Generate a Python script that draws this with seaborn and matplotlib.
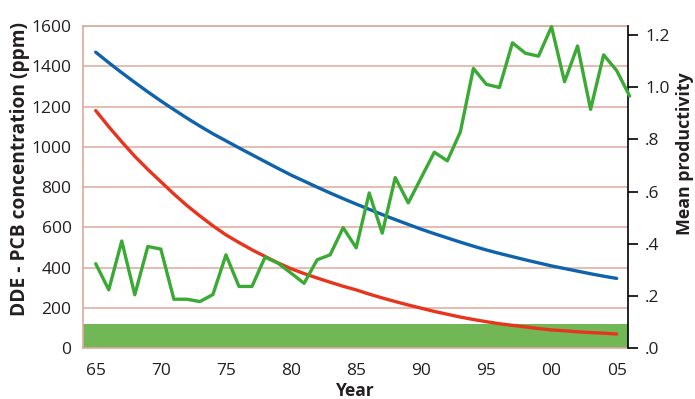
import numpy as np
import pandas as pd
import matplotlib
matplotlib.use("Agg")
import matplotlib.pyplot as plt
import seaborn as sns
from matplotlib.ticker import FixedLocator, FuncFormatter

# ---------------- data ----------------
years = list(range(1965, 2006))
dde_pcb_blue = [1470, 1418, 1368, 1320, 1273, 1228, 1185, 1143, 1103, 1065,
                1030, 995, 961, 927, 893, 860, 830, 800, 771, 743,
                716, 690, 664, 639, 615, 591, 569, 548, 527, 507,
                488, 471, 455, 439, 424, 409, 396, 383, 370, 358, 347]
dde_pcb_red = [1180, 1100, 1025, 953, 888, 827, 766, 709, 657, 608,
               563, 525, 489, 456, 424, 395, 371, 349, 328, 308,
               290, 269, 250, 232, 215, 199, 183, 169, 155, 143,
               132, 122, 114, 106, 98, 91, 87, 82, 78, 75, 71]
prod_years = list(range(1965, 2007))
productivity = [0.324, 0.224, 0.411, 0.205, 0.390, 0.380, 0.188, 0.188, 0.179, 0.206,
                0.358, 0.237, 0.237, 0.349, 0.326, 0.288, 0.249, 0.339, 0.358, 0.462,
                0.385, 0.595, 0.441, 0.654, 0.557, 0.654, 0.751, 0.718, 0.829, 1.072,
                1.011, 0.999, 1.170, 1.130, 1.119, 1.232, 1.021, 1.158, 0.915, 1.124,
                1.064, 0.966]
band_top = 120
left_ticks = [0, 200, 400, 600, 800, 1000, 1200, 1400, 1600]
right_ticks = [0.0, 0.2, 0.4, 0.6, 0.8, 1.0, 1.2]
right_labels = [".0", ".2", ".4", ".6", ".8", "1.0", "1.2"]
x_major = [1965, 1970, 1975, 1980, 1985, 1990, 1995, 2000, 2005]

# ---------------- style ----------------
sns.set_style("white")
plt.rcParams['font.family'] = ['Open Sans', 'DejaVu Sans']
txt = "#231f20"
grid_c = "#deaa9c"
band_c = "#72b755"
blue_c = "#0f63ac"
red_c = "#e8341c"
green_c = "#3aaa35"

W, H = 695, 399
fig = plt.figure(figsize=(W / 100, H / 100), dpi=100)
L, R, B, T = 82.7, 627.7, 348.3, 26.0
ax = fig.add_axes([L / W, 1 - B / H, (R - L) / W, (B - T) / H])

df_conc = pd.DataFrame({"year": years, "blue": dde_pcb_blue, "red": dde_pcb_red})
df_prod = pd.DataFrame({"year": prod_years, "prod": productivity})

ax.axhspan(0, band_top, color=band_c, lw=0, zorder=1)
sns.lineplot(data=df_conc, x="year", y="blue", ax=ax, color=blue_c, lw=2.4, zorder=3)
sns.lineplot(data=df_conc, x="year", y="red", ax=ax, color=red_c, lw=2.4, zorder=3)

ax.set_xlim(1964.0, 2005.85)
ax.set_ylim(0, 1600)
ax.set_axisbelow(True)
ax.yaxis.grid(True, color=grid_c, lw=1.1)
ax.xaxis.grid(False)
ax.set_yticks(left_ticks)
ax.set_yticklabels([str(v) for v in left_ticks])
ax.tick_params(axis="y", length=0, pad=8, labelsize=12.5, labelcolor=txt)
ax.xaxis.set_major_locator(FixedLocator(x_major))
ax.xaxis.set_minor_locator(FixedLocator(years))
ax.xaxis.set_major_formatter(FuncFormatter(lambda v, p: f"{int(round(v)) % 100:02d}"))
ax.tick_params(axis="x", which="major", length=6.5, width=1.1, color=grid_c,
               pad=4, labelsize=12.5, labelcolor=txt)
ax.tick_params(axis="x", which="minor", length=3.5, width=1.1, color=grid_c)
for s in ["left", "top", "bottom"]:
    ax.spines[s].set_color(grid_c)
    ax.spines[s].set_linewidth(1.2)
ax.spines["right"].set_visible(False)
ax.set_xlabel("Year", fontsize=12.5, fontweight="bold", color=txt, labelpad=2)
ax.set_ylabel("")

ax2 = ax.twinx()
sns.lineplot(data=df_prod, x="year", y="prod", ax=ax2, color=green_c, lw=2.4, zorder=4)
for ln in ax2.lines:
    ln.set_clip_on(False)
ax2.set_ylim(0, 1.2345)
ax2.set_yticks(right_ticks)
ax2.set_yticklabels(right_labels)
ax2.tick_params(axis="y", length=7.5, width=1.2, color="black", pad=5,
                labelsize=12.5, labelcolor=txt)
for s in ["left", "top", "bottom"]:
    ax2.spines[s].set_visible(False)
ax2.spines["right"].set_color("black")
ax2.spines["right"].set_linewidth(1.2)
ax2.set_ylabel("")
ax2.set_xlabel("")

# axis titles placed like the reference (baseline x, centre y in pixels)
fig.text(25 / W, 1 - 169 / H, "DDE - PCB concentration (ppm)", rotation=90,
         rotation_mode="anchor", ha="center", va="baseline",
         fontsize=13.8, fontweight="bold", color=txt)
fig.text(690 / W, 1 - 154 / H, "Mean productivity", rotation=90,
         rotation_mode="anchor", ha="center", va="baseline",
         fontsize=12.8, fontweight="bold", color=txt)

fig.savefig("out.png", dpi=100)
